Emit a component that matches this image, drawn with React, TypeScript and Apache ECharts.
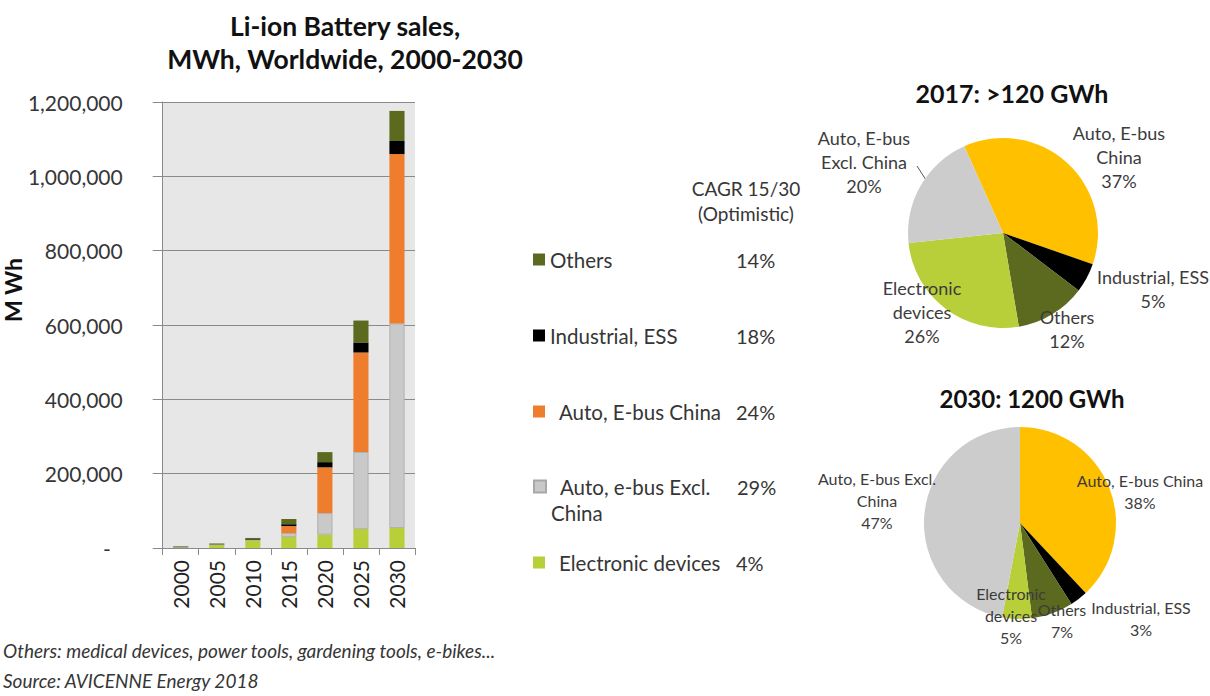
import React, { useEffect, useRef } from "react";
import * as echarts from "echarts";

// ---------- data ----------
const years = ["2000", "2005", "2010", "2015", "2020", "2025", "2030"];
const electronic = [2500, 9500, 21000, 30000, 36000, 51000, 54000];
const autoExclChina = [0, 500, 1000, 10000, 58000, 207000, 550000];
const autoChina = [0, 0, 500, 19000, 123000, 268000, 456000];
const industrial = [500, 500, 1500, 5000, 14000, 27000, 35000];
const others = [1000, 1500, 3000, 14000, 27000, 59000, 81000];

const barNames = ["Electronic devices", "Auto, e-bus Excl. China", "Auto, E-bus China", "Industrial, ESS", "Others"];
const cagr = ["4%", "29%", "24%", "18%", "14%"];
const yTickValues = [0, 200000, 400000, 600000, 800000, 1000000, 1200000];

const pieCategories = ["Auto, E-bus China", "Industrial, ESS", "Others", "Electronic devices", "Auto, E-bus Excl. China"];
const share2017 = [37, 5, 12, 26, 20];
const share2030 = [38, 3, 7, 5, 47];
const labels2017 = ["Auto, E-bus\nChina", "Industrial, ESS", "Others", "Electronic\ndevices", "Auto, E-bus\nExcl. China"];
const labels2030 = ["Auto, E-bus China", "Industrial, ESS", "Others", "Electronic\ndevices", "Auto, E-bus Excl.\nChina"];

const chartTitle = "Li-ion Battery sales,\nMWh, Worldwide, 2000-2030";
const pieTitle2017 = "2017: >120 GWh";
const pieTitle2030 = "2030: 1200 GWh";
const cagrHeader = "CAGR 15/30\n(Optimistic)";
const footnote1 = "Others: medical devices, power tools, gardening tools, e-bikes...";
const footnote2 = "Source: AVICENNE Energy 2018";

// ---------- styles / positions ----------
const FONT = "Lato, 'Noto Sans', sans-serif";
const TXT = "#363636";
const barColors = ["#b8cf3a", "#c9c9c9", "#ef7d2e", "#000000", "#5b6a1e"];
const pieColors = ["#ffc000", "#000000", "#5b6a1e", "#b8cf3a", "#cccccc"];
const legendCenters = [563, 489, 412, 336, 260]; // same order as barNames
const legendIndent = [9, 9, 9, 0, 0];
const pieLabelPos2017 = [[1119, 157], [1153, 289], [1067, 329], [922, 312], [864, 162]];
const pieLabelPos2030 = [[1140, 491], [1141, 618], [1062, 620], [1011, 615], [877, 500]];

const barSeriesData = [electronic, autoExclChina, autoChina, industrial, others];

function buildOption(): any {
  const LFS = 20.5;
  const legends = barNames.map((name, i) => {
    const ind = legendIndent[i];
    const multi = name === "Auto, e-bus Excl. China";
    const lh = multi ? 26 : 22;
    const rich: any = {
      n: { width: 186 - ind, padding: [0, 0, 0, ind], fontSize: LFS, color: TXT, fontFamily: FONT, lineHeight: lh },
      n0: { fontSize: LFS, color: TXT, fontFamily: FONT, lineHeight: lh },
      p: { fontSize: 20, color: TXT, fontFamily: FONT, lineHeight: lh },
      e: { fontSize: LFS, lineHeight: lh },
    };
    const formatter = multi
      ? `{e| }\n{n|Auto, e-bus Excl.}{p|${cagr[i]}}\n{n0|China}`
      : `{n|${name}}{p|${cagr[i]}}`;
    return {
      data: [name],
      left: 533,
      top: multi ? legendCenters[i] - lh * 1.5 : legendCenters[i] - lh / 2,
      orient: "vertical",
      padding: 0,
      itemWidth: 12,
      itemHeight: 12,
      icon: "rect",
      selectedMode: false,
      formatter,
      textStyle: { fontFamily: FONT, fontSize: LFS, color: TXT, rich },
    };
  });

  const bars = barNames.map((name, i) => ({
    type: "bar",
    name,
    stack: "total",
    data: barSeriesData[i],
    barWidth: "42%",
    itemStyle: {
      color: barColors[i],
      borderColor: i === 1 ? "#a8a8a8" : barColors[i],
      borderWidth: i === 1 ? 0.8 : 0,
    },
    emphasis: { disabled: true },
  }));

  const pie = (center: number[], radius: number, startAngle: number, shares: number[], labels: string[], pos: number[][], fs: number, lh: number) => ({
    type: "pie",
    center,
    radius,
    startAngle,
    clockwise: true,
    silent: true,
    emphasis: { disabled: true },
    data: pieCategories.map((n, i) => ({ name: n, value: shares[i], itemStyle: { color: pieColors[i] } })),
    itemStyle: { borderWidth: 0 },
    label: {
      show: true,
      position: "outside",
      alignTo: "none",
      overflow: "none",
      formatter: (p: any) => `${labels[p.dataIndex]}\n${p.value}%`,
      fontFamily: FONT,
      fontSize: fs,
      lineHeight: lh,
      color: "#3c3c3c",
      align: "center",
    },
    labelLine: { show: false },
    labelLayout: (p: any) => ({ x: pos[p.dataIndex][0], y: pos[p.dataIndex][1], align: "center", verticalAlign: "middle" }),
  });

  return {
    animation: false,
    backgroundColor: "#ffffff",
    textStyle: { fontFamily: FONT },
    grid: { left: 158, top: 102, width: 257, height: 446, show: true, backgroundColor: "#e7e7e7", borderWidth: 0 },
    legend: legends,
    xAxis: {
      type: "category",
      data: years,
      axisLine: { show: true, lineStyle: { color: "#8a8a8a", width: 1 } },
      axisTick: { show: true, length: 7, alignWithLabel: false, interval: 0, lineStyle: { color: "#8a8a8a" } },
      axisLabel: { rotate: 90, margin: 12, fontSize: 21, color: "#222", fontFamily: FONT, interval: 0 },
    },
    yAxis: {
      type: "value",
      min: 0,
      max: 1200000,
      interval: 200000,
      name: "M Wh",
      nameLocation: "middle",
      nameGap: 125,
      nameRotate: 90,
      nameTextStyle: { fontSize: 23, fontWeight: "bold", color: "#111", fontFamily: FONT, padding: [0, 0, 0, 70] },
      axisLine: { show: true, lineStyle: { color: "#8a8a8a", width: 1 } },
      axisTick: { show: true, length: 10, lineStyle: { color: "#8a8a8a" } },
      splitLine: { show: true, lineStyle: { color: "#8a8a8a", width: 1 } },
      axisLabel: {
        margin: 40,
        fontSize: 21,
        color: TXT,
        fontFamily: FONT,
        customValues: yTickValues,
        formatter: (v: number) => (v === 0 ? "{d|-}" : v.toLocaleString("en-US")),
        rich: { d: { fontSize: 21, color: TXT, padding: [0, 12, 0, 0] } },
      },
    },
    series: [
      ...bars,
      pie([1003, 233], 95, 114, share2017, labels2017, pieLabelPos2017, 18, 24),
      pie([1020, 523], 96, 90, share2030, labels2030, pieLabelPos2030, 16, 22),
    ],
    graphic: [
      {
        type: "text",
        x: 345,
        y: 42,
        style: { text: chartTitle, fill: "#111", font: `bold 26.5px ${FONT}`, lineHeight: 33, align: "center", verticalAlign: "middle" },
      },
      {
        type: "text",
        x: 746,
        y: 201,
        style: { text: cagrHeader, fill: TXT, font: `19px ${FONT}`, lineHeight: 25, align: "center", verticalAlign: "middle" },
      },
      {
        type: "text",
        x: 1012,
        y: 93,
        style: { text: pieTitle2017, fill: "#111", font: `bold 25px ${FONT}`, align: "center", verticalAlign: "middle" },
      },
      {
        type: "text",
        x: 1032,
        y: 398,
        style: { text: pieTitle2030, fill: "#111", font: `bold 24px ${FONT}`, align: "center", verticalAlign: "middle" },
      },
      {
        type: "line",
        shape: { x1: 917, y1: 166, x2: 926, y2: 180 },
        style: { stroke: "#555", lineWidth: 1 },
      },
      {
        type: "text",
        x: 3,
        y: 650,
        style: { text: footnote1, fill: TXT, font: `italic 19px ${FONT}`, align: "left", verticalAlign: "middle" },
      },
      {
        type: "text",
        x: 3,
        y: 680,
        style: { text: footnote2, fill: TXT, font: `italic 19px ${FONT}`, align: "left", verticalAlign: "middle" },
      },
    ],
  };
}

export default function App() {
  const ref = useRef<HTMLDivElement>(null);
  useEffect(() => {
    const chart = echarts.init(ref.current!, null, { renderer: "svg" });
    chart.setOption(buildOption());
    return () => chart.dispose();
  }, []);
  return (
    <div
      ref={ref}
      style={{ position: "absolute", left: 0, top: 0, width: 1210, height: 696, background: "#fff" }}
    />
  );
}
